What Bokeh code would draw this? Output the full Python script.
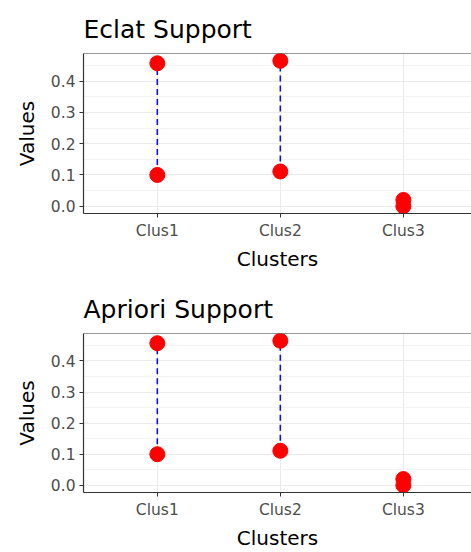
from bokeh.plotting import figure
from bokeh.models import Range1d, FixedTicker, SingleIntervalTicker, NumeralTickFormatter, Span, ColumnDataSource
from bokeh.layouts import column
from bokeh.embed import file_html
from bokeh.resources import INLINE

clusters = ["Clus1", "Clus2", "Clus3"]
eclat_low = [0.100, 0.111, 0.000]
eclat_high = [0.457, 0.465, 0.020]
apriori_low = [0.100, 0.111, 0.000]
apriori_high = [0.457, 0.465, 0.020]

FONT = "DejaVu Sans"


def make_panel(title, low, high, height, top, bottom):
    xs = list(range(1, len(clusters) + 1))
    p = figure(width=471, height=height, output_backend="svg", toolbar_location=None,
               x_range=Range1d(0.4, 3.554), y_range=Range1d(-0.0233, 0.4883),
               min_border_left=83, min_border_right=0, min_border_top=top, min_border_bottom=bottom)
    p.title.text = title
    p.title.text_font = FONT
    p.title.text_font_size = "25px"
    p.title.text_font_style = "normal"
    p.title.text_color = "black"
    p.title.align = "left"
    p.title.offset = 0
    p.title.standoff = 20
    p.outline_line_color = None
    p.background_fill_color = "white"
    p.border_fill_color = "white"

    # grids
    p.xgrid.ticker = FixedTicker(ticks=xs)
    p.xgrid.grid_line_color = "#EBEBEB"
    p.ygrid.grid_line_color = "#EBEBEB"
    p.ygrid.minor_grid_line_color = "#F3F3F3"

    # axes
    p.xaxis.ticker = FixedTicker(ticks=xs)
    p.xaxis.major_label_overrides = {x: c for x, c in zip(xs, clusters)}
    p.yaxis.ticker = SingleIntervalTicker(interval=0.1, num_minor_ticks=2)
    p.yaxis.formatter = NumeralTickFormatter(format="0.0")
    for ax in (p.xaxis[0], p.yaxis[0]):
        ax.axis_line_color = "#333333"
        ax.axis_line_width = 1.2
        ax.major_tick_line_color = "#333333"
        ax.major_tick_in = 0
        ax.major_tick_out = 4
        ax.minor_tick_line_color = None
        ax.major_label_text_font = FONT
        ax.major_label_text_font_size = "15.5px"
        ax.major_label_text_color = "#4D4D4D"
        ax.major_label_standoff = 4
        ax.axis_label_text_font = FONT
        ax.axis_label_text_font_size = "20px"
        ax.axis_label_text_font_style = "normal"
        ax.axis_label_text_color = "black"
    p.xaxis.axis_label_standoff = 4
    p.yaxis.axis_label_standoff = 9
    p.xaxis.axis_label = "Clusters"
    p.yaxis.axis_label = "Values"

    top_border = Span(location=0.4883, dimension="width", line_color="#333333", line_width=1.2)
    p.add_layout(top_border)

    src = ColumnDataSource(dict(x=xs, low=low, high=high))
    p.segment(x0="x", y0="low", x1="x", y1="high", source=src,
              line_color="#1010E0", line_width=1.6, line_dash="6 4")
    p.scatter(x="x", y="low", source=src, size=15, fill_color="#FF0000", line_color="#FF0000")
    p.scatter(x="x", y="high", source=src, size=15, fill_color="#FF0000", line_color="#FF0000")
    return p


p1 = make_panel("Eclat Support", eclat_low, eclat_high, 280, 53, 67)
p2 = make_panel("Apriori Support", apriori_low, apriori_high, 272, 53, 59)
p = column(p1, p2)

open("out.html", "w").write(file_html(p, INLINE))
